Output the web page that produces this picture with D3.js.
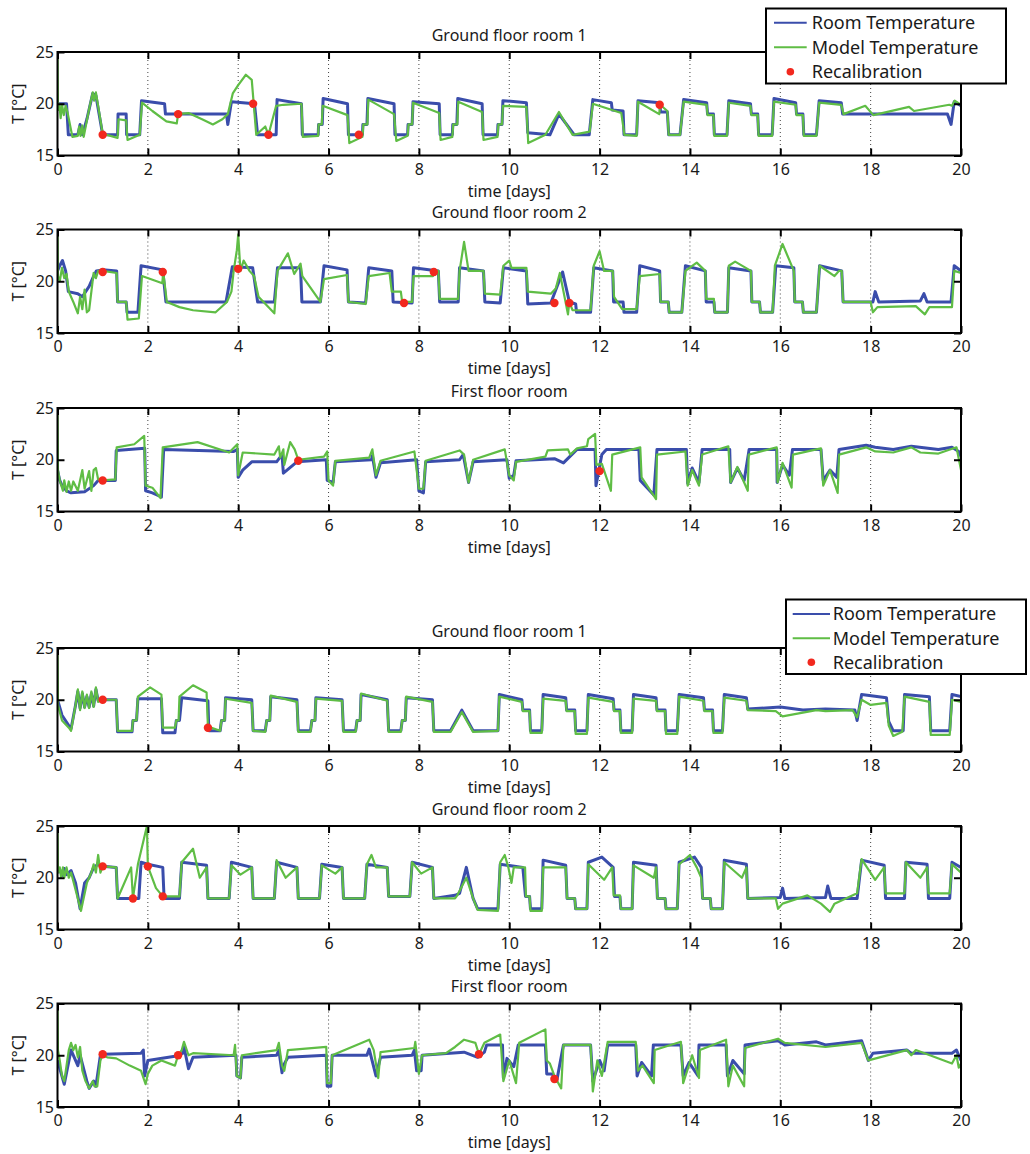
<!DOCTYPE html>
<html lang="en">
<head>
<meta charset="UTF-8">
<title>Room and model temperature</title>
<style>
  body { margin: 0; background: #fff; }
  svg text { font-family: "Noto Sans", "DejaVu Sans", sans-serif; fill: #1a1a1a; }
</style>
</head>
<body>
<script src="https://d3js.org/d3.v7.min.js"></script>
<div id="chart"></div>
<script>
// ---- data: [day, temperature °C] ----
var titles = ["Ground floor room 1", "Ground floor room 2", "First floor room",
              "Ground floor room 1", "Ground floor room 2", "First floor room"];
var xTicks = [0, 2, 4, 6, 8, 10, 12, 14, 16, 18, 20];
var yTicks = [15, 20, 25];
var legendLabels = ["Room Temperature", "Model Temperature", "Recalibration"];

// top group, ground floor room 1
var gf1aRoom = [[0,20],[0.2,20],[0.24,17],[0.45,17],[0.5,18],[0.55,17],[0.65,18.5],[0.78,21],[0.85,20.8],[1.0,17],[1.33,17],[1.34,19],[1.52,19],[1.53,17],[1.82,17],[1.86,20.3],[2.37,20],[2.39,19],[3.74,19],[3.77,18],[3.85,20.2],[4.36,20],[4.43,17],[4.84,17],[4.86,20.4],[5.4,20],[5.42,17],[5.77,17],[5.78,18],[5.86,18],[5.88,20.5],[6.42,20],[6.44,17],[6.75,17],[6.76,18],[6.85,18],[6.87,20.5],[7.45,20],[7.47,17],[7.75,17],[7.76,18],[7.85,18],[7.87,20.2],[8.45,20],[8.47,17],[8.74,17],[8.75,18],[8.84,18],[8.86,20.5],[9.4,20],[9.42,17],[9.74,17],[9.75,18],[9.84,18],[9.86,20.3],[10.38,20.1],[10.41,17.2],[10.9,17],[11.1,19],[11.44,17],[11.77,17],[11.85,20.4],[12.26,20.1],[12.28,19.4],[12.52,19.3],[12.54,17],[12.82,17],[12.85,20.3],[13.33,20.1],[13.35,19.2],[13.5,19.2],[13.53,17],[13.78,17],[13.86,20.4],[14.37,20.1],[14.39,19],[14.52,19],[14.54,17],[14.82,17],[14.86,20.3],[15.34,20],[15.36,19],[15.5,19],[15.52,17],[15.82,17],[15.86,20.5],[16.34,20.1],[16.36,19],[16.5,19],[16.52,17],[16.8,17],[16.86,20.3],[17.35,20.1],[17.38,19],[19.7,19],[19.78,18],[19.85,20.2],[20,19.8]];
var gf1aModel = [[0,25],[0.01,19.4],[0.04,20],[0.07,18.6],[0.1,19.9],[0.14,18.9],[0.18,19.8],[0.22,19.2],[0.33,16.8],[0.45,16.9],[0.48,17.8],[0.51,16.9],[0.55,17.9],[0.58,16.8],[0.7,19.5],[0.78,21.1],[0.81,20.3],[0.85,21.1],[1.0,17.1],[1.33,16.7],[1.35,18.5],[1.52,18.4],[1.55,16.5],[1.82,17],[1.87,20.1],[2.1,19.3],[2.41,18.3],[2.64,18.1],[2.67,19],[2.9,19.1],[3.2,18.5],[3.44,18],[3.65,18.5],[3.77,19],[3.88,21],[4.0,21.8],[4.17,22.8],[4.3,22.3],[4.4,17],[4.6,17.8],[4.67,17],[4.84,19.8],[5.0,19.9],[5.4,20],[5.43,16.8],[5.77,16.9],[5.78,18],[5.85,18],[5.87,19.8],[6.42,18.9],[6.46,16.2],[6.75,16.8],[6.77,18],[6.86,18],[6.88,20.4],[7.45,19],[7.5,16.4],[7.75,16.9],[7.77,18],[7.85,18],[7.87,20.1],[8.45,19.1],[8.48,16.5],[8.74,16.8],[8.76,18],[8.85,18],[8.87,20.2],[9.4,19.2],[9.43,16.5],[9.74,16.8],[9.76,18],[9.84,18],[9.86,19.8],[10.38,19.7],[10.42,16.2],[10.8,17],[11.1,19.2],[11.4,17],[11.78,17.3],[11.85,20],[12.48,19.1],[12.55,17],[12.82,16.9],[12.85,20.2],[13.32,19],[13.34,19.9],[13.5,19.3],[13.53,17],[13.78,17],[13.86,20.2],[14.37,19.9],[14.39,18.9],[14.52,18.9],[14.54,16.9],[14.82,16.9],[14.86,20.1],[15.34,19.8],[15.36,18.9],[15.5,18.9],[15.52,16.9],[15.82,16.9],[15.86,20.2],[16.34,19.9],[16.36,18.9],[16.5,18.9],[16.52,16.9],[16.8,16.9],[16.86,20.1],[17.35,19.9],[17.4,19],[17.88,19.8],[18.06,18.9],[18.85,19.7],[18.96,19.3],[19.74,19.9],[19.8,19.8],[19.86,20.3],[20,19.9]];
var gf1aRecal = [[1.0,17],[2.67,19],[4.33,20],[4.67,17],[6.67,17],[13.33,19.9]];

// top group, ground floor room 2
var gf2aRoom = [[0,21],[0.05,21.5],[0.11,22],[0.18,21],[0.24,19],[0.45,18.8],[0.55,18.5],[0.7,19.5],[0.8,20.5],[0.86,21],[1.0,21.1],[1.31,21],[1.33,18],[1.52,18],[1.54,17],[1.78,17],[1.85,21.5],[2.33,21.1],[2.4,18],[3.73,18],[3.87,21.4],[4.32,21.3],[4.43,18],[4.8,18],[4.87,21.3],[5.38,21.3],[5.41,18],[5.82,18],[5.9,21.5],[6.41,21.1],[6.44,18],[6.82,17.9],[6.89,21.3],[7.4,21],[7.43,18],[7.85,17.9],[7.88,21.3],[8.43,21],[8.46,18],[8.87,18],[8.9,21.3],[9.43,21],[9.46,18],[9.8,17.9],[9.87,21.3],[10.38,21],[10.41,17.8],[10.92,17.9],[11.18,20.9],[11.33,18],[11.47,17.8],[11.49,17],[11.8,17],[11.87,21.3],[12.29,21],[12.31,18],[12.52,18],[12.54,17],[12.82,17],[12.89,21.5],[13.33,21],[13.35,18],[13.52,18],[13.54,17],[13.82,17],[13.9,21.5],[14.34,21],[14.36,18],[14.53,18],[14.55,17],[14.83,17],[14.86,21.3],[15.35,21],[15.37,18],[15.54,18],[15.56,17],[15.83,17],[15.9,21.5],[16.3,21.3],[16.32,18],[16.49,18],[16.51,17],[16.8,17],[16.87,21.5],[17.36,21],[17.39,18],[18.05,18],[18.1,19],[18.18,18],[19.1,18.1],[19.18,18.8],[19.25,18],[19.78,18],[19.85,21.5],[20,21]];
var gf2aModel = [[0,25],[0.01,20.5],[0.05,20],[0.1,21.3],[0.15,20.3],[0.2,20.7],[0.25,19],[0.35,18],[0.45,16.9],[0.5,18.5],[0.55,17.3],[0.6,19.2],[0.65,17],[0.7,17.2],[0.8,20.8],[0.85,20.3],[0.9,21],[1.0,21],[1.31,20.8],[1.33,18],[1.52,18],[1.55,16.3],[1.8,16.4],[1.87,20.5],[2.32,19.8],[2.34,20.9],[2.42,18],[2.7,17.5],[3.0,17.2],[3.5,17],[3.75,18],[3.85,19],[3.9,21],[3.97,23],[4.0,24.5],[4.05,21],[4.12,22],[4.25,21],[4.35,20.5],[4.45,18.5],[4.8,16.9],[4.87,21],[5.1,22.7],[5.24,20.7],[5.38,21.7],[5.42,20.5],[5.82,18],[5.9,20.2],[6.41,20.6],[6.44,18],[6.82,17.8],[6.89,20.5],[7.35,20.8],[7.4,19],[7.6,19],[7.63,18],[7.85,18],[7.88,20.5],[8.31,20.5],[8.33,21],[8.43,21],[8.46,18.3],[8.87,18.3],[8.9,21],[9.0,23.8],[9.1,21],[9.43,21],[9.46,18.8],[9.8,18.7],[9.87,21.5],[10.0,22],[10.05,21.3],[10.38,21.3],[10.41,19],[10.92,18.8],[11.03,19.3],[11.12,20.8],[11.3,16.8],[11.33,18],[11.4,17.2],[11.8,17.2],[11.87,21.5],[12.0,22.9],[12.1,21],[12.29,21],[12.32,18.5],[12.5,17.3],[12.82,17.3],[12.89,20.5],[13.33,20.7],[13.35,18],[13.52,18],[13.54,17],[13.82,17],[13.9,21],[14.15,21.8],[14.34,21],[14.36,18.3],[14.53,18.3],[14.55,17],[14.83,17],[14.86,21.5],[15.0,21.9],[15.35,21],[15.37,18],[15.54,18],[15.56,17],[15.83,17],[15.88,21.5],[16.05,23.6],[16.3,21],[16.32,18],[16.49,18],[16.51,17],[16.8,17],[16.87,21.5],[17.2,20.5],[17.3,21],[17.36,21],[17.39,18],[18.0,18],[18.05,17],[18.15,17.5],[19.0,17.6],[19.2,16.8],[19.3,17.5],[19.8,17.5],[19.85,21],[20,20.8]];
var gf2aRecal = [[1.0,20.9],[2.33,20.9],[4.0,21.2],[7.67,17.9],[8.33,20.9],[11.0,17.9],[11.33,17.9]];

// top group, first floor room
var ffaRoom = [[0,19],[0.05,18],[0.1,17.5],[0.2,17],[0.3,16.8],[0.6,16.9],[0.8,17.5],[0.9,18],[1.28,18],[1.3,20.9],[1.93,21.1],[1.95,17],[2.1,16.8],[2.3,16.4],[2.35,21],[3.9,20.8],[3.98,21],[4.0,18.3],[4.1,19],[4.3,19.8],[4.85,19.8],[4.97,20.5],[5.0,18.7],[5.3,19.8],[5.95,20],[5.97,18],[6.1,17.8],[6.15,19.8],[6.95,20],[6.97,20.4],[7.05,18.3],[7.15,19.7],[7.95,20],[8.0,17],[8.1,16.8],[8.15,19.8],[8.9,20],[8.98,20.5],[9.1,17.8],[9.2,19.8],[9.95,20],[10.0,18.2],[10.1,18.5],[10.15,19.9],[11.0,20.1],[11.2,19.7],[11.5,21],[11.9,21],[11.92,17.5],[12.05,20.5],[12.15,21],[12.87,21],[12.9,18],[13.2,16.6],[13.27,21],[13.92,21],[13.95,17.7],[14.05,19.2],[14.2,17.8],[14.27,21],[14.88,21],[14.9,17.8],[15.05,19.2],[15.2,18],[15.31,21],[15.92,21],[15.93,17.8],[16.05,19.5],[16.2,18.5],[16.27,21],[16.9,21],[16.95,18],[17.1,19],[17.25,18.3],[17.3,21],[17.9,21.4],[18.1,21.2],[18.5,21],[18.9,21.3],[19.5,21],[19.8,21.2],[19.95,20.8],[20,20.3]];
var ffaModel = [[0,25],[0.01,19],[0.05,18],[0.12,17],[0.15,18],[0.2,16.9],[0.25,17.9],[0.3,17],[0.35,17.9],[0.45,17],[0.55,19],[0.6,17.2],[0.7,18.9],[0.75,17],[0.8,19],[0.85,19.2],[0.9,18.1],[1.0,18],[1.28,18.1],[1.31,21.2],[1.7,21.5],[1.92,22.3],[1.95,17.5],[2.1,17.3],[2.28,16.3],[2.33,21.2],[3.1,21.7],[3.8,20.7],[3.98,21.5],[4.0,18.5],[4.1,20.7],[4.8,20.5],[4.9,21.3],[4.93,20.2],[5.0,21],[5.02,19.5],[5.15,21.7],[5.25,21],[5.33,20],[5.9,20.3],[5.97,20.8],[6.0,18],[6.1,17.5],[6.15,19.9],[6.9,20.2],[6.97,21],[7.05,18.5],[7.15,19.9],[7.9,20.8],[8.0,17.2],[8.1,17.2],[8.15,19.9],[8.9,20.9],[9.0,20.5],[9.1,17.8],[9.2,20],[9.9,21],[10.0,18.5],[10.1,18],[10.15,19.8],[10.8,20.3],[10.85,20.9],[11.3,21],[11.35,20.5],[11.5,21.1],[11.72,21.3],[11.75,22],[11.9,22.5],[11.93,19.5],[12.05,19.6],[12.25,17],[12.28,20.5],[12.9,21.2],[12.93,18.3],[13.25,16.2],[13.27,20.5],[13.9,20.8],[13.95,17.5],[14.05,19],[14.2,17.5],[14.27,20.5],[14.85,21.3],[14.9,17.8],[15.05,19.3],[15.28,17],[15.3,20.5],[15.92,21.2],[15.94,17.8],[16.05,19.7],[16.25,17.3],[16.28,20.5],[16.9,21.1],[16.95,17.5],[17.1,19],[17.27,16.8],[17.3,20.5],[17.9,21.2],[18.1,20.8],[18.5,20.7],[18.9,21.2],[19.1,20.7],[19.5,20.6],[19.9,21.2],[20,19]];
var ffaRecal = [[1.0,18],[5.33,19.9],[12.0,18.9]];

// bottom group, ground floor room 1
var gf1bRoom = [[0,20],[0.1,18.5],[0.25,17.5],[0.3,17.2],[0.4,19.5],[0.45,20.8],[0.5,19.2],[0.55,20.6],[0.6,19.3],[0.65,20.3],[0.7,19.3],[0.75,20.6],[0.8,19.4],[0.85,21],[0.9,19.9],[1.0,20],[1.3,20],[1.33,16.9],[1.65,16.9],[1.67,18],[1.75,18],[1.78,20.1],[2.3,20.1],[2.33,16.8],[2.6,16.8],[2.63,18],[2.7,18],[2.75,20.2],[3.33,19.9],[3.35,17],[3.6,17],[3.63,18],[3.7,18],[3.72,20.2],[4.3,20],[4.33,17],[4.6,17],[4.63,18],[4.7,18],[4.72,20.3],[5.3,20],[5.33,17],[5.6,17],[5.63,18],[5.7,18],[5.72,20.2],[6.3,20],[6.33,17],[6.6,17],[6.63,18],[6.7,18],[6.72,20.5],[7.3,20],[7.33,17],[7.6,17],[7.63,18],[7.7,18],[7.72,20.2],[8.3,20],[8.33,17],[8.7,17],[8.95,19],[9.2,17],[9.75,17],[9.78,20.5],[10.28,20],[10.3,19],[10.45,19],[10.47,17],[10.72,17],[10.75,20.5],[11.25,20.2],[11.27,19],[11.45,19],[11.47,17],[11.72,17],[11.75,20.5],[12.3,20.1],[12.32,19],[12.45,19],[12.47,17],[12.72,17],[12.75,20.5],[13.25,20.2],[13.27,19],[13.45,19],[13.47,17],[13.72,17],[13.76,20.5],[14.3,20.2],[14.32,19],[14.5,19],[14.52,17],[14.72,17],[14.76,20.5],[15.25,20.2],[15.28,19.1],[16.0,19.3],[16.5,19],[17.0,19.1],[17.65,19],[17.7,18],[17.8,20.5],[18.35,20.2],[18.4,17.9],[18.5,17],[18.72,17],[18.75,20.5],[19.3,20.3],[19.33,17],[19.75,17],[19.8,20.5],[20,20.3]];
var gf1bModel = [[0,25],[0.01,19.5],[0.1,18],[0.25,17.3],[0.3,17],[0.4,19.5],[0.45,21],[0.5,19],[0.55,20.8],[0.6,19.2],[0.65,20.5],[0.7,19.2],[0.75,20.8],[0.8,19.3],[0.85,21.2],[0.9,19.8],[1.0,20],[1.3,20],[1.33,17],[1.65,17],[1.67,18],[1.75,18],[1.78,20.3],[2.05,21.2],[2.3,20.5],[2.33,17.3],[2.6,17.3],[2.63,18],[2.68,18],[2.7,20.3],[3.0,21.4],[3.3,20.7],[3.33,17.4],[3.6,17],[3.63,18],[3.7,18],[3.72,20.1],[4.3,19.7],[4.33,17],[4.6,16.9],[4.63,18],[4.7,18],[4.72,20.4],[5.3,19.8],[5.33,16.9],[5.6,16.9],[5.63,18],[5.7,18],[5.72,20.1],[6.3,19.9],[6.33,16.9],[6.6,16.9],[6.63,18],[6.7,18],[6.72,20.6],[7.3,19.9],[7.33,16.9],[7.6,16.9],[7.63,18],[7.7,18],[7.72,20.3],[8.3,19.8],[8.33,16.9],[8.7,16.9],[8.95,18.8],[9.2,16.9],[9.75,17],[9.78,20.3],[10.28,19.8],[10.3,18.9],[10.45,18.9],[10.47,16.8],[10.72,16.8],[10.75,20.1],[11.25,19.9],[11.27,18.9],[11.45,18.9],[11.47,16.7],[11.72,16.7],[11.75,20.2],[12.3,19.8],[12.32,18.9],[12.45,18.9],[12.47,16.8],[12.72,16.8],[12.75,20.1],[13.25,19.9],[13.27,18.9],[13.45,18.9],[13.47,16.7],[13.72,16.7],[13.76,20.3],[14.3,19.9],[14.32,18.9],[14.5,18.9],[14.52,16.8],[14.72,16.8],[14.76,20.2],[15.25,19.9],[15.28,19],[15.9,18.9],[16.05,18.4],[16.8,19],[17.0,18.9],[17.6,19],[17.7,18.3],[17.8,20],[18.0,19.5],[18.35,19.7],[18.4,17.5],[18.5,16.5],[18.7,16.9],[18.75,20.3],[19.3,19.8],[19.33,16.6],[19.75,16.6],[19.8,20],[20,19.8]];
var gf1bRecal = [[1.0,20],[3.33,17.3]];

// bottom group, ground floor room 2
var gf2bRoom = [[0,20.5],[0.05,20.8],[0.1,20.2],[0.15,20.9],[0.2,20.3],[0.3,20.7],[0.4,19.5],[0.5,17],[0.6,19.5],[0.7,20],[0.8,21],[0.9,21.3],[1.0,21.1],[1.3,21],[1.33,18],[1.8,18],[1.85,21.5],[2.0,21.3],[2.33,21],[2.36,18],[2.7,18],[2.75,21.5],[3.3,21.2],[3.33,18],[3.8,18],[3.85,21.5],[4.3,21],[4.33,18],[4.8,18],[4.85,21.5],[5.3,21],[5.33,18],[5.8,18],[5.85,21.3],[6.3,21],[6.33,18],[6.8,18],[6.85,21.3],[7.3,21],[7.33,18.2],[7.8,18.2],[7.85,21.5],[8.3,21],[8.33,18],[8.8,18.3],[8.9,18.5],[9.05,21],[9.2,18],[9.3,17],[9.75,17],[9.8,21.3],[10.3,21],[10.36,18.2],[10.45,18.2],[10.47,17],[10.72,17],[10.75,21.7],[11.25,21.2],[11.28,18],[11.45,18],[11.47,17],[11.72,17],[11.75,21.5],[12.05,22],[12.3,21],[12.33,18.2],[12.45,18.2],[12.47,17],[12.72,17],[12.75,21.5],[13.25,21.2],[13.28,18],[13.45,18],[13.47,17],[13.72,17],[13.76,21.5],[14.1,22],[14.25,21],[14.28,18],[14.45,18],[14.47,17],[14.72,17],[14.76,21.7],[15.25,21.3],[15.28,18],[16.0,18.1],[16.05,19],[16.1,18],[17.0,18.1],[17.05,19.2],[17.12,18],[17.7,18],[17.8,21.7],[18.3,21.2],[18.33,18],[18.75,18],[18.78,21.5],[19.25,21.3],[19.28,18],[19.75,18],[19.8,21.5],[20,21]];
var gf2bModel = [[0,25],[0.01,20.5],[0.05,21],[0.08,20],[0.12,21],[0.15,20],[0.2,21],[0.25,20],[0.3,20.5],[0.45,18],[0.52,16.8],[0.65,19.5],[0.7,20],[0.75,20.5],[0.8,21.3],[0.85,20.5],[0.9,22.2],[0.95,20.5],[1.0,21.1],[1.3,21],[1.33,18],[1.63,21],[1.67,18],[1.78,21.3],[1.98,25],[2.0,21.1],[2.18,19],[2.33,18.2],[2.7,18.2],[2.75,21.5],[3.0,22.8],[3.15,20],[3.3,21],[3.33,18],[3.8,18],[3.85,21.2],[4.05,20.3],[4.3,21],[4.33,18],[4.8,18],[4.85,21.7],[5.05,20],[5.3,21],[5.33,18],[5.8,18],[5.85,21.2],[6.15,20.4],[6.3,21],[6.33,18],[6.8,18],[6.85,21.3],[6.95,22.2],[7.05,21],[7.3,21],[7.33,18.2],[7.8,18.2],[7.85,21.5],[8.05,20.4],[8.3,21],[8.33,18],[8.8,18],[8.85,18.3],[9.05,20],[9.2,18],[9.3,16.9],[9.75,16.8],[9.8,21.5],[9.9,22.2],[9.98,21],[10.05,19.5],[10.1,21],[10.35,21],[10.37,18.2],[10.45,18.2],[10.47,16.8],[10.72,16.8],[10.75,21],[11.25,21],[11.28,18],[11.45,18],[11.47,17],[11.72,17],[11.75,21.3],[12.1,19.8],[12.28,21],[12.31,18.3],[12.45,18.3],[12.47,17],[12.72,17],[12.75,21.2],[13.2,20],[13.25,21],[13.28,18],[13.45,18],[13.47,17],[13.72,17],[13.76,21.3],[14.0,22.2],[14.15,21],[14.25,20],[14.28,18],[14.45,18],[14.47,17],[14.72,17],[14.76,21.5],[15.15,20],[15.25,21],[15.28,18],[15.9,18],[15.95,17],[16.05,17.5],[16.6,18.3],[16.9,17.5],[17.1,16.7],[17.2,17.5],[17.7,18.5],[17.8,21.8],[18.1,19.8],[18.3,21],[18.33,18.5],[18.75,18.5],[18.78,21.5],[19.1,20],[19.25,21],[19.28,18.5],[19.75,18.5],[19.8,21.3],[20,20.5]];
var gf2bRecal = [[1.0,21.1],[1.67,18],[2.0,21.1],[2.33,18.2]];

// bottom group, first floor room
var ffbRoom = [[0,19.5],[0.15,17.2],[0.3,20.5],[0.45,19],[0.5,20],[0.65,17.5],[0.7,16.8],[0.8,17.5],[0.85,17],[0.95,20],[1.0,20.1],[1.85,20.2],[1.9,20.5],[1.93,18],[2.0,19.5],[2.6,19.9],[2.78,20.2],[2.8,20.8],[2.9,18.7],[3.0,19.8],[3.95,20],[3.97,18],[4.05,17.8],[4.08,19.8],[4.85,20],[4.9,20.5],[4.97,18.3],[5.0,19],[5.1,19.8],[5.95,20],[5.97,17],[6.05,17],[6.08,20],[6.85,20],[6.9,20.6],[7.05,18],[7.15,19.8],[7.85,20],[7.9,20.5],[7.95,18.5],[8.05,18.5],[8.07,20],[9.0,20.3],[9.3,19.8],[9.45,20.3],[9.5,21],[9.85,21],[9.87,17.8],[9.95,19.7],[10.1,18.9],[10.2,21],[10.8,21],[10.83,18.2],[10.95,18.2],[11.05,17.5],[11.2,21],[11.8,21],[11.85,17.5],[12.0,19.5],[12.1,18.5],[12.18,21],[12.8,21],[12.83,18],[12.93,19.3],[13.15,18],[13.19,21],[13.8,21],[13.85,18],[13.98,19.3],[14.18,18],[14.2,21],[14.8,21],[14.83,18],[14.95,19.5],[15.2,18.2],[15.22,21],[15.95,21.4],[16.1,21],[16.8,21.3],[17.0,21],[17.8,21.4],[17.95,19.5],[18.05,20.2],[18.8,20.5],[18.9,20.2],[19.8,20.2],[19.9,20.5],[20,19.5]];
var ffbModel = [[0,25],[0.01,20.5],[0.05,19.5],[0.1,18],[0.15,17.5],[0.2,19],[0.25,20.5],[0.3,21.2],[0.35,20.5],[0.4,21],[0.45,19.8],[0.5,20.8],[0.55,18.5],[0.62,17.5],[0.7,16.8],[0.78,17.5],[0.82,17],[0.88,17],[0.95,19.5],[1.0,20],[1.1,19.8],[1.3,19.7],[1.6,19],[1.85,18.5],[1.95,17.2],[2.0,18.2],[2.1,19],[2.3,19.5],[2.6,19],[2.67,20],[2.75,20.5],[2.8,21.3],[2.9,20],[3.0,20.2],[3.9,20],[3.93,21],[3.97,18],[4.05,17.8],[4.08,20],[4.85,20.5],[4.9,21.2],[4.97,19],[5.02,18.5],[5.1,20.5],[5.95,20.8],[5.97,17.3],[6.05,17.3],[6.08,20],[6.9,21.5],[7.0,20.5],[7.1,17.8],[7.15,20.3],[7.9,20.7],[7.92,21.3],[8.0,18.2],[8.07,20],[8.6,20.2],[8.8,20.8],[9.0,21.5],[9.25,21.2],[9.33,20.1],[9.45,21.2],[9.8,22],[9.87,17.5],[10.0,19.5],[10.15,17.3],[10.22,21.2],[10.8,22.5],[10.83,19.5],[10.9,19.2],[11.0,18],[11.15,16.8],[11.2,21],[11.8,21],[11.85,16.5],[11.95,19.5],[12.05,18],[12.18,21.3],[12.8,21.3],[12.85,18.5],[12.95,19],[13.2,17.3],[13.22,20.5],[13.8,21.3],[13.85,17.3],[14.05,20],[14.2,17.8],[14.22,20.5],[14.8,21.5],[14.85,17],[14.95,19],[15.2,17],[15.22,20.7],[15.95,21.6],[16.1,21.2],[17.0,20.8],[17.8,21.2],[17.95,19.5],[18.8,20.5],[18.9,20],[19.0,20.5],[19.8,19.2],[19.9,20],[19.95,18.8],[20,19.2]];
var ffbRecal = [[1.0,20.1],[2.67,20],[9.33,20.1],[11.0,17.7]];

// ---- layout ----
var W = 1030, H = 1154;
var plotLeft = 57.5, plotRight = 961, plotH = 103.5;
var panelTops = [52, 229.5, 408, 648, 826, 1003.5];
var roomColor = "#3a4dab", modelColor = "#5fbd45", recalColor = "#f2281e";
var fontFam = '"Noto Sans", "DejaVu Sans", sans-serif';

var panels = [
  {room: gf1aRoom, model: gf1aModel, recal: gf1aRecal},
  {room: gf2aRoom, model: gf2aModel, recal: gf2aRecal},
  {room: ffaRoom,  model: ffaModel,  recal: ffaRecal},
  {room: gf1bRoom, model: gf1bModel, recal: gf1bRecal},
  {room: gf2bRoom, model: gf2bModel, recal: gf2bRecal},
  {room: ffbRoom,  model: ffbModel,  recal: ffbRecal}
];

var svg = d3.select("#chart").append("svg")
    .attr("width", W)
    .attr("height", H);

var x = d3.scaleLinear().domain([0, 20]).range([plotLeft, plotRight]);

panels.forEach(function(p, i) {
  var top = panelTops[i];
  var y = d3.scaleLinear().domain([15, 25]).range([top + plotH, top]);
  var g = svg.append("g");

  svg.append("clipPath").attr("id", "clip" + i)
    .append("rect")
    .attr("x", plotLeft).attr("y", top)
    .attr("width", plotRight - plotLeft).attr("height", plotH);

  // dotted vertical grid
  g.selectAll(".grid")
    .data(xTicks.slice(1, -1))
    .enter().append("line")
    .attr("x1", function(d) { return x(d); })
    .attr("x2", function(d) { return x(d); })
    .attr("y1", top).attr("y2", top + plotH)
    .attr("stroke", "#444")
    .attr("stroke-width", 1)
    .attr("stroke-dasharray", "1,3");

  var line = d3.line()
    .x(function(d) { return x(d[0]); })
    .y(function(d) { return y(d[1]); });

  var lines = g.append("g").attr("clip-path", "url(#clip" + i + ")");
  lines.append("path")
    .attr("d", line(p.room))
    .attr("fill", "none")
    .attr("stroke", roomColor)
    .attr("stroke-width", 3)
    .attr("stroke-linejoin", "round");
  lines.append("path")
    .attr("d", line(p.model))
    .attr("fill", "none")
    .attr("stroke", modelColor)
    .attr("stroke-width", 2.2)
    .attr("stroke-linejoin", "round");

  g.selectAll(".dot")
    .data(p.recal)
    .enter().append("circle")
    .attr("cx", function(d) { return x(d[0]); })
    .attr("cy", function(d) { return y(d[1]); })
    .attr("r", 4.2)
    .attr("fill", recalColor);

  // axes with inward ticks on all four sides
  var bottom = g.append("g")
    .attr("transform", "translate(0," + (top + plotH) + ")")
    .call(d3.axisBottom(x).tickValues(xTicks).tickSize(-7).tickPadding(8));
  var topAx = g.append("g")
    .attr("transform", "translate(0," + top + ")")
    .call(d3.axisTop(x).tickValues(xTicks).tickSize(-7).tickFormat(""));
  var leftAx = g.append("g")
    .attr("transform", "translate(" + plotLeft + ",0)")
    .call(d3.axisLeft(y).tickValues(yTicks).tickSize(-7).tickPadding(3.5));
  var rightAx = g.append("g")
    .attr("transform", "translate(" + plotRight + ",0)")
    .call(d3.axisRight(y).tickValues(yTicks).tickSize(-7).tickFormat(""));

  [bottom, topAx, leftAx, rightAx].forEach(function(a) {
    a.attr("font-size", 16).attr("font-family", fontFam);
    a.select(".domain").remove();
    a.selectAll(".tick line").attr("stroke", "#000").attr("stroke-width", 2);
    a.selectAll(".tick text").attr("fill", "#1a1a1a");
  });

  // frame
  g.append("rect")
    .attr("x", plotLeft).attr("y", top)
    .attr("width", plotRight - plotLeft).attr("height", plotH)
    .attr("fill", "none")
    .attr("stroke", "#000")
    .attr("stroke-width", 2);

  // texts
  g.append("text")
    .attr("x", (plotLeft + plotRight) / 2)
    .attr("y", top - 11.5)
    .attr("text-anchor", "middle")
    .attr("font-size", 16)
    .text(titles[i]);

  g.append("text")
    .attr("x", (plotLeft + plotRight) / 2)
    .attr("y", top + plotH + 41.3)
    .attr("text-anchor", "middle")
    .attr("font-size", 16)
    .text("time [days]");

  g.append("text")
    .attr("transform", "translate(18," + (top + plotH / 2) + ") rotate(-90)")
    .attr("dy", "0.35em")
    .attr("text-anchor", "middle")
    .attr("font-size", 16)
    .text("T [°C]");
});

// legends
function legend(bx, by, bw, bh, rows, lineX0, lineX1, textX) {
  var lg = svg.append("g");
  lg.append("rect")
    .attr("x", bx).attr("y", by).attr("width", bw).attr("height", bh)
    .attr("fill", "#fff").attr("stroke", "#000").attr("stroke-width", 2);
  var colors = [roomColor, modelColor];
  rows.forEach(function(ry, k) {
    if (k < 2) {
      lg.append("line")
        .attr("x1", bx + lineX0).attr("x2", bx + lineX1)
        .attr("y1", by + ry).attr("y2", by + ry)
        .attr("stroke", colors[k]).attr("stroke-width", 2);
    } else {
      lg.append("circle")
        .attr("cx", bx + (lineX0 + lineX1) / 2).attr("cy", by + ry)
        .attr("r", 3.8).attr("fill", recalColor);
    }
    lg.append("text")
      .attr("x", bx + textX).attr("y", by + ry)
      .attr("dy", "0.35em")
      .attr("font-size", 18)
      .text(legendLabels[k]);
  });
}
legend(766, 8.5, 240, 75, [14.2, 38.8, 63.2], 8, 40.7, 45.7);
legend(786, 599.5, 240, 74.5, [14.5, 38.8, 62.8], 6.7, 44, 46.7);
</script>
</body>
</html>
